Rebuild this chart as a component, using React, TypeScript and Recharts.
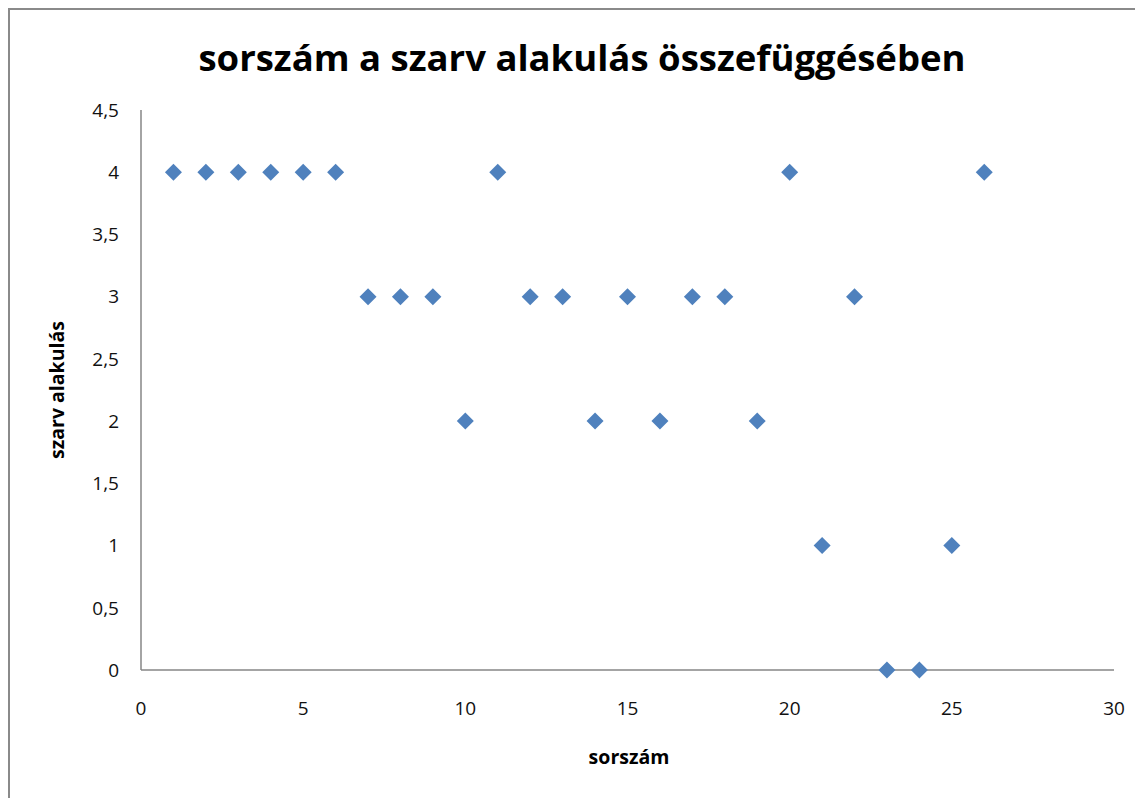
import React from "react";
import { ScatterChart, Scatter, XAxis, YAxis } from "recharts";

const sorszam = [1, 2, 3, 4, 5, 6, 7, 8, 9, 10, 11, 12, 13, 14, 15, 16, 17, 18, 19, 20, 21, 22, 23, 24, 25, 26];
const szarvAlakulas = [4, 4, 4, 4, 4, 4, 3, 3, 3, 2, 4, 3, 3, 2, 3, 2, 3, 3, 2, 4, 1, 3, 0, 0, 1, 4];
const xTicks = [0, 5, 10, 15, 20, 25, 30];
const yTicks = [0, 0.5, 1, 1.5, 2, 2.5, 3, 3.5, 4, 4.5];

const title = "sorszám a szarv alakulás összefüggésében";
const xLabel = "sorszám";
const yLabel = "szarv alakulás";

const data = sorszam.map((x, i) => ({ x, y: szarvAlakulas[i] }));

const FONT = "'Open Sans', 'Noto Sans', sans-serif";

const Diamond = (props: any) => {
  const { cx, cy } = props;
  const r = 8.5;
  return (
    <polygon
      points={`${cx},${cy - r} ${cx + r},${cy} ${cx},${cy + r} ${cx - r},${cy}`}
      fill="#4F81BD"
    />
  );
};

const fmt = (v: number) => String(v).replace(".", ",");

export default function App() {
  return (
    <div
      style={{
        position: "relative",
        width: 1135,
        height: 790,
        boxSizing: "border-box",
        borderTop: "2px solid #8a8a8a",
        borderLeft: "2px solid #8a8a8a",
        fontFamily: FONT,
        background: "#fff",
      }}
    >
      <div
        style={{
          position: "absolute",
          left: -8,
          top: 22,
          width: 1160,
          textAlign: "center",
          fontSize: 36.5,
          fontWeight: 700,
          color: "#000",
          lineHeight: "50px",
          whiteSpace: "nowrap",
        }}
      >
        {title}
      </div>
      <div style={{ position: "absolute", left: 0, top: 0 }}>
        <ScatterChart
          width={1133}
          height={788}
          margin={{ top: 100, right: 29, bottom: 0, left: 0 }}
        >
          <XAxis
            type="number"
            dataKey="x"
            domain={[0, 30]}
            ticks={xTicks}
            interval={0}
            height={128}
            axisLine={{ stroke: "#868686", strokeWidth: 1.5 }}
            tickLine={false}
            tickMargin={26}
            tick={{ fill: "#111", fontSize: 19, fontFamily: FONT }}
          />
          <YAxis
            type="number"
            dataKey="y"
            domain={[0, 4.5]}
            ticks={yTicks}
            interval={0}
            width={131}
            axisLine={{ stroke: "#868686", strokeWidth: 1.5 }}
            tickLine={false}
            tickMargin={16}
            tickFormatter={fmt}
            tick={{ fill: "#111", fontSize: 19, fontFamily: FONT }}
          />
          <Scatter data={data} shape={<Diamond />} isAnimationActive={false} />
        </ScatterChart>
      </div>
      <div
        style={{
          position: "absolute",
          left: 0,
          top: 733,
          width: 1238,
          textAlign: "center",
          fontSize: 19.5,
          fontWeight: 700,
          lineHeight: "28px",
        }}
      >
        {xLabel}
      </div>
      <div style={{ position: "absolute", left: 47, top: 380, width: 0, height: 0 }}>
        <div
          style={{
            position: "absolute",
            left: -100,
            top: -14,
            width: 200,
            textAlign: "center",
            fontSize: 19.5,
            fontWeight: 700,
            lineHeight: "28px",
            transform: "rotate(-90deg)",
            whiteSpace: "nowrap",
          }}
        >
          {yLabel}
        </div>
      </div>
    </div>
  );
}
